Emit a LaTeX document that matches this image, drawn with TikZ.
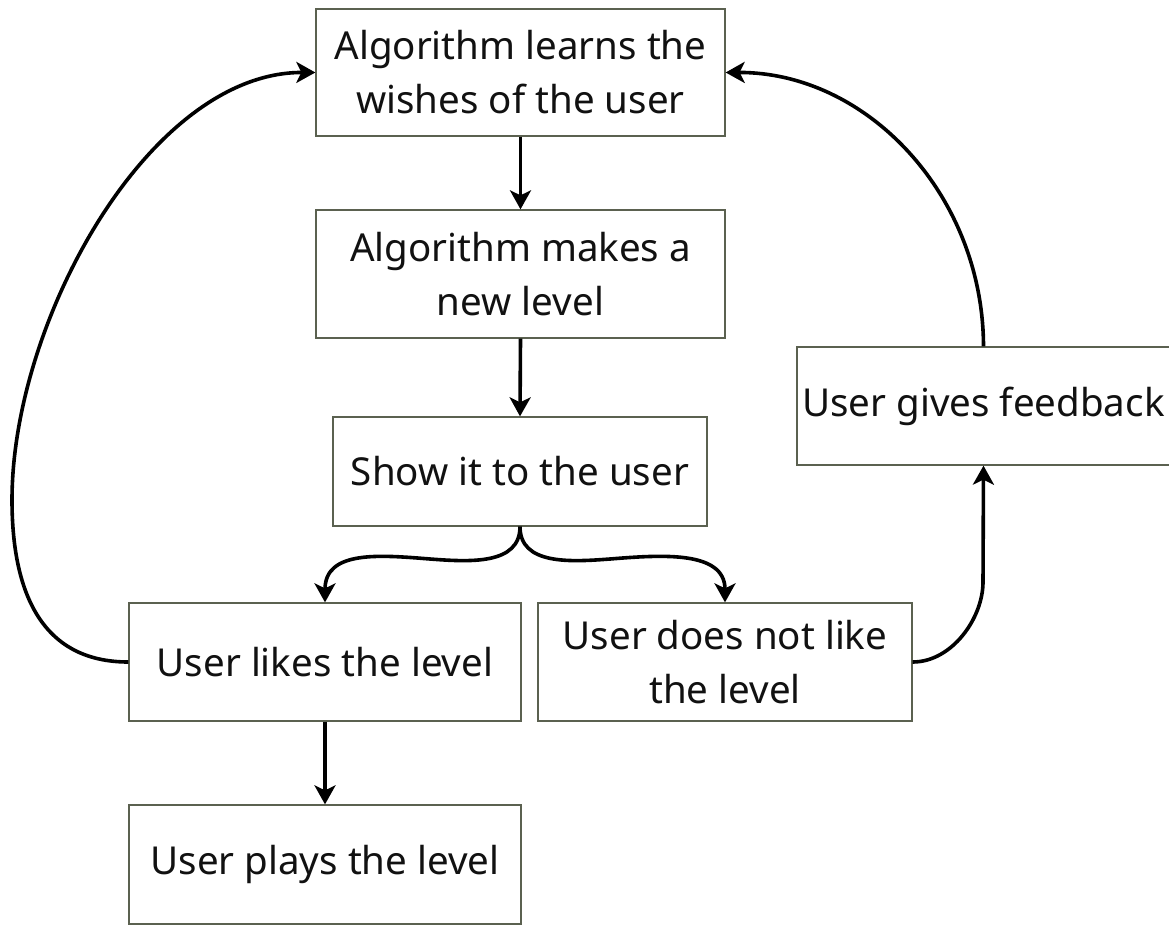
\documentclass[tikz,border=0pt]{standalone}
\usepackage{fontspec}
\setmainfont{Noto Sans}
\usetikzlibrary{arrows.meta}
\definecolor{boxline}{HTML}{5B6150}
\definecolor{ink}{HTML}{111111}
\begin{document}
\begin{tikzpicture}[x=1pt,y=-1pt,
  stepbox/.style={draw=boxline, line width=1.3pt, fill=white, inner sep=0pt,
    align=center, text=ink, font=\fontsize{38.5}{54}\selectfont},
  link/.style={line width=3.6pt, draw=black,
    -{Stealth[length=19pt,width=21pt,inset=5pt]}}]
\useasboundingbox (0,0) rectangle (1169,925);

% process boxes
\node[stepbox, minimum width=409pt, minimum height=127pt] (learn) at (520.5,72.5)
  {Algorithm learns the\\wishes of the user};
\node[stepbox, minimum width=409pt, minimum height=128pt] (make) at (520.5,274)
  {Algorithm makes a\\new level};
\node[stepbox, minimum width=374pt, minimum height=109pt] (show) at (520,471.5)
  {Show it to the user};
\node[stepbox, minimum width=392pt, minimum height=118pt] (likes) at (325,662)
  {User likes the level};
\node[stepbox, minimum width=374pt, minimum height=118pt] (dislikes) at (725,662)
  {User does not like\\the level};
\node[stepbox, minimum width=392pt, minimum height=119pt] (plays) at (325,864.5)
  {User plays the level};
\node[stepbox, minimum width=373pt, minimum height=118pt] (feedback) at (983.5,406)
  {User gives feedback};

% straight links
\draw[link] (learn.south) -- (make.north);
\draw[link] (make.south) -- (show.north);
\draw[link] (likes.south) -- (plays.north);

% split below "Show it to the user"
\draw[link] (show.south) .. controls (520,565) and (470,562) .. (430,559)
  .. controls (380,555) and (325,550) .. (likes.north);
\draw[link] (show.south) .. controls (520,565) and (570,562) .. (610,559)
  .. controls (660,555) and (725,550) .. (dislikes.north);

% loop back when the level is liked
\draw[link] (likes.west) .. controls (40,662) and (12,590) .. (12,500)
  .. controls (12,320) and (150,72) .. (learn.west);

% feedback loop
\draw[link] (dislikes.east) .. controls (952,662) and (983,618) .. (983,582)
  -- (feedback.south);
\draw[link] (feedback.north) .. controls (983,195) and (867,72) .. (learn.east);
\end{tikzpicture}
\end{document}
